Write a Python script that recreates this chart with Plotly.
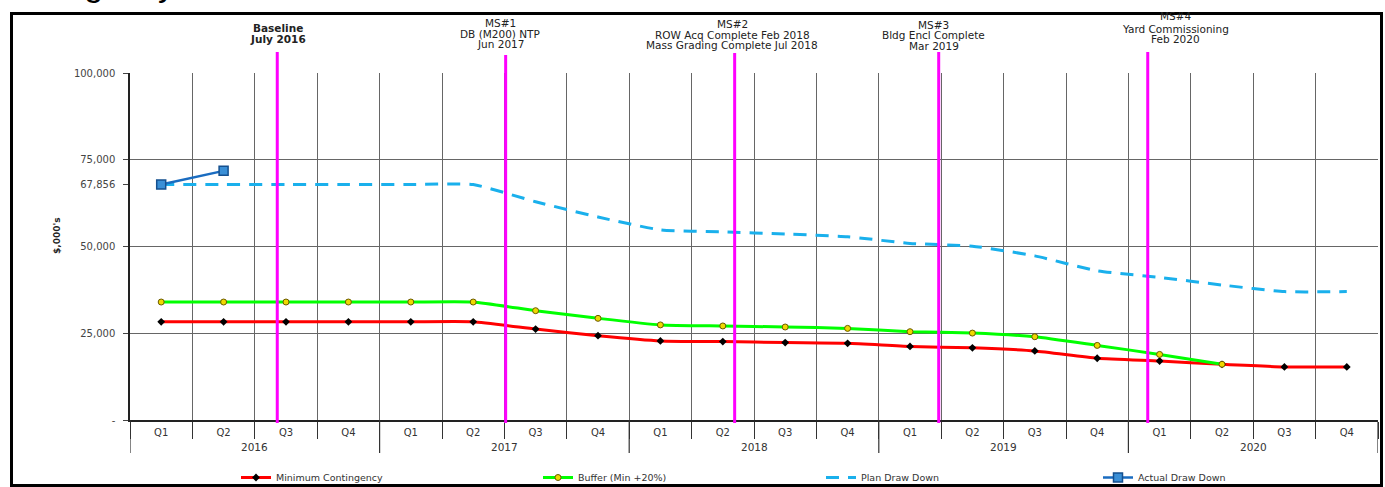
import plotly.graph_objects as go

# ---- data -------------------------------------------------------------
quarters = ["Q1", "Q2", "Q3", "Q4"] * 5
years = ["2016", "2017", "2018", "2019", "2020"]

min_contingency = [28300, 28300, 28300, 28300, 28300, 28300,
                   26200, 24300, 22800, 22600, 22300, 22100,
                   21200, 20800, 19900, 17800, 17000, 16050, 15300, 15300]
buffer_min20 = [34000, 34000, 34000, 34000, 34000, 34000,
                31500, 29300, 27400, 27100, 26800, 26400,
                25450, 25050, 24000, 21500, 18900, 16050]
plan_draw_down = [67856, 67856, 67856, 67856, 67856, 67856,
                  62900, 58500, 54800, 54200, 53600, 52800,
                  50900, 50100, 47300, 43000, 41100, 38900, 37000, 37000]
actual_draw_down = [67856, 71800]

y_tick_vals = [0, 25000, 50000, 67856, 75000, 100000]
y_tick_text = ["-", "25,000", "50,000", "67,856", "75,000", "100,000"]

# milestone positions on the quarter index axis (0 = Q1 2016)
milestone_x = [1.86, 5.52, 9.19, 12.46, 15.81]
milestone_top_px = [52, 55, 53, 52, 52]
milestone_lines = [
    ["<b>Baseline</b>", "<b>July 2016</b>"],
    ["MS#1", "DB (M200) NTP", "Jun 2017"],
    ["MS#2", "ROW Acq Complete Feb 2018", "Mass Grading Complete Jul 2018"],
    ["MS#3", "Bldg Encl Complete", "Mar 2019"],
    ["MS#4", "Yard Commissioning", "Feb 2020"],
]
milestone_label_x = [1.87, 5.43, 9.15, 12.38, 16.26]
milestone_line_y_px = [
    [28, 39],
    [23, 34, 44],
    [24, 35, 45],
    [25, 35, 45.5],
    [16, 29, 39],
]

# ---- layout geometry ---------------------------------------------------
W, H = 1385, 487
ML, MR, MT, MB = 130, 7, 73, 67
PW, PH = W - ML - MR, H - MT - MB


def px_x(px):
    return (px - ML) / PW


def px_y(py):
    return (H - MB - py) / PH


FONT = "DejaVu Sans, Liberation Sans, Arial, sans-serif"
idx = list(range(len(quarters)))

fig = go.Figure()

fig.add_trace(go.Scatter(
    x=idx, y=min_contingency, name="Minimum Contingency", mode="lines+markers",
    line=dict(color="#ff0000", width=3, shape="spline", smoothing=0.5),
    marker=dict(symbol="diamond", size=6, color="#000000"),
    legend="legend"))
fig.add_trace(go.Scatter(
    x=idx[:len(buffer_min20)], y=buffer_min20, name="Buffer (Min +20%)",
    mode="lines+markers",
    line=dict(color="#00ff00", width=3, shape="spline", smoothing=0.5),
    marker=dict(symbol="circle", size=6, color="#f0d800",
                line=dict(color="#6a5a00", width=1)),
    legend="legend2"))
fig.add_trace(go.Scatter(
    x=idx, y=plan_draw_down, name="Plan Draw Down", mode="lines",
    line=dict(color="#1ab0ec", width=3, dash="13px,9px", shape="spline", smoothing=0.5),
    legend="legend3"))
fig.add_trace(go.Scatter(
    x=idx[:len(actual_draw_down)], y=actual_draw_down, name="Actual Draw Down",
    mode="lines+markers",
    line=dict(color="#1a6cc0", width=2.5),
    marker=dict(symbol="square", size=9, color="#3a8fd6",
                line=dict(color="#15508f", width=1.5)),
    legend="legend4"))

shapes = []
# milestone markers
for mx, top in zip(milestone_x, milestone_top_px):
    shapes.append(dict(type="line", xref="x", yref="paper", x0=mx, x1=mx,
                       y0=px_y(423), y1=px_y(top),
                       line=dict(color="#ff00ff", width=3), layer="above"))
# year separators below the axis
for k in range(0, 21, 4):
    shapes.append(dict(type="line", xref="x", yref="paper", x0=k - 0.5, x1=k - 0.5,
                       y0=0, y1=px_y(453), line=dict(color="#333333", width=1.2)))
# outer frame
shapes.append(dict(type="rect", xref="paper", yref="paper",
                   x0=px_x(11.5), x1=px_x(1381.5), y0=px_y(485.5), y1=px_y(13.5),
                   line=dict(color="#000000", width=3)))

annotations = []
for lx, lines, ys in zip(milestone_label_x, milestone_lines, milestone_line_y_px):
    for txt, ly in zip(lines, ys):
        annotations.append(dict(x=lx, y=px_y(ly), xref="x", yref="paper", text=txt,
                                showarrow=False, xanchor="center", yanchor="middle",
                                font=dict(family=FONT, size=10.5, color="#222222")))
for i, yr in enumerate(years):
    annotations.append(dict(x=4 * i + 1.5, y=px_y(447), xref="x", yref="paper", text=yr,
                            showarrow=False, yanchor="middle",
                            font=dict(family=FONT, size=10.5, color="#333333")))
annotations.append(dict(x=px_x(50), y=px_y(236), xref="paper", yref="paper",
                        text="<b>$,000's</b>", textangle=-90, showarrow=False,
                        font=dict(family=FONT, size=9, color="#222222")))
annotations.append(dict(x=px_x(-16), y=px_y(5), xref="paper", yref="paper",
                        text="Contingency", showarrow=False, xanchor="left",
                        yanchor="bottom",
                        font=dict(family="Liberation Sans, Arial", size=34,
                                  color="#000000")))

legend_common = dict(orientation="h", yanchor="middle", yref="container",
                     y=(H - 477.5) / H, xanchor="left", xref="container",
                     bgcolor="rgba(0,0,0,0)", borderwidth=0,
                     font=dict(family=FONT, size=9.5, color="#333333"))

fig.update_layout(
    width=W, height=H,
    margin=dict(l=ML, r=MR, t=MT, b=MB, pad=0, autoexpand=False),
    paper_bgcolor="white", plot_bgcolor="white",
    showlegend=True,
    legend=dict(x=236 / W, **legend_common),
    legend2=dict(x=538 / W, **legend_common),
    legend3=dict(x=821 / W, **legend_common),
    legend4=dict(x=1098 / W, **legend_common),
    shapes=shapes, annotations=annotations,
    font=dict(family=FONT, size=10, color="#333333"),
)

fig.update_xaxes(
    range=[-0.5, 19.5], tickmode="array", tickvals=idx, ticktext=quarters,
    ticks="", showgrid=False, zeroline=False,
    showline=True, linecolor="#222222", linewidth=1.5,
    tickfont=dict(family=FONT, size=10, color="#333333"),
    ticklabelstandoff=2,
    minor=dict(tick0=-0.5, dtick=1, showgrid=True, gridcolor="#666666", gridwidth=1,
               ticks="outside", ticklen=17, tickcolor="#333333", tickwidth=1.2),
    fixedrange=True,
)
fig.update_yaxes(
    range=[0, 100000], tickmode="array", tickvals=y_tick_vals, ticktext=y_tick_text,
    ticks="outside", ticklen=5, tickcolor="#444444", showgrid=False, zeroline=False,
    showline=True, linecolor="#222222", linewidth=1.5,
    tickfont=dict(family=FONT, size=10, color="#444444"),
    ticklabelstandoff=6,
    minor=dict(tick0=0, dtick=25000, showgrid=True, gridcolor="#666666", gridwidth=1),
    fixedrange=True,
)

fig.write_html("out.html")
